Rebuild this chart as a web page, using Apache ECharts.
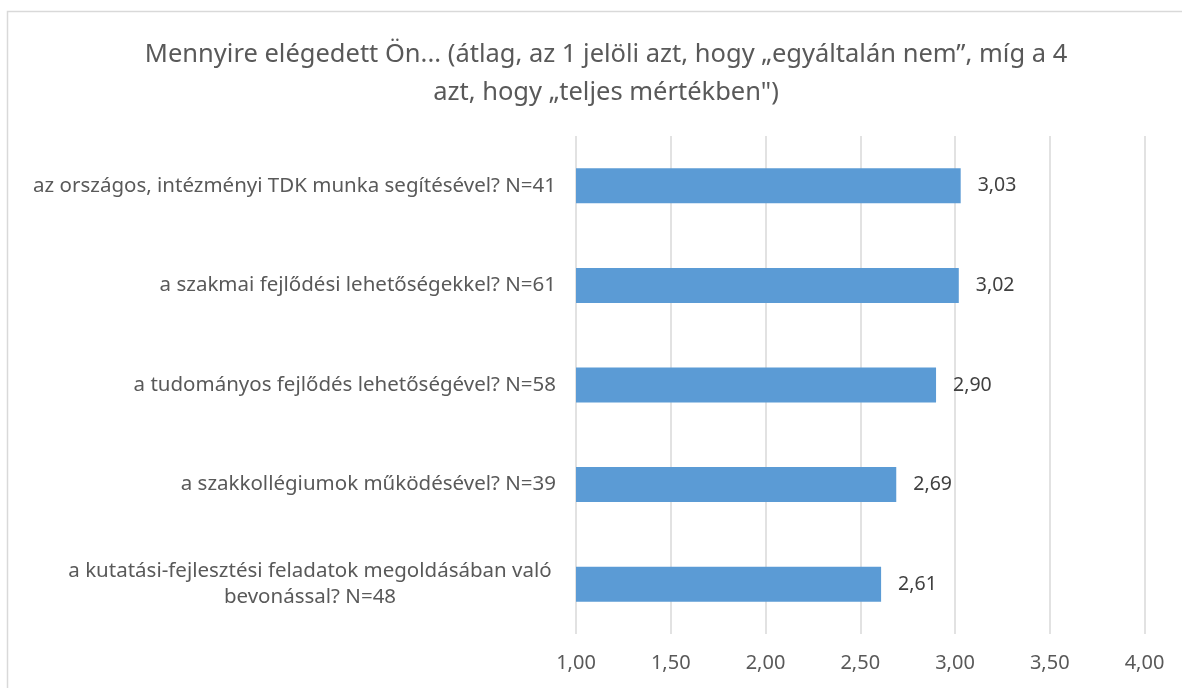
<!DOCTYPE html>
<html>
<head>
<meta charset="utf-8">
<title>Elégedettség</title>
<script src="https://cdn.jsdelivr.net/npm/echarts@6/dist/echarts.min.js"></script>
<style>
  html, body { margin: 0; padding: 0; background: #ffffff; }
  #chart { width: 1182px; height: 688px; }
</style>
</head>
<body>
<div id="chart"></div>
<script>
// Questions, listed top to bottom
const categories = [
  'az országos, intézményi TDK munka segítésével? N=41',
  'a szakmai fejlődési lehetőségekkel? N=61',
  'a tudományos fejlődés lehetőségével? N=58',
  'a szakkollégiumok működésével? N=39',
  'a kutatási-fejlesztési feladatok megoldásában való\nbevonással? N=48'
];
// Mean scores (1 = not at all, 4 = fully)
const means = [3.03, 3.02, 2.90, 2.69, 2.61];
// Value axis ticks
const axisMin = 1.0;
const axisMax = 4.0;
const axisStep = 0.5;

const titleLines = [
  'Mennyire elégedett Ön... (átlag, az 1 jelöli azt, hogy „egyáltalán nem”, míg a 4',
  'azt, hogy „teljes mértékben")'
];

const FONT = '"Noto Sans", "Open Sans", sans-serif';
const comma = v => v.toFixed(2).replace('.', ',');

const chart = echarts.init(document.getElementById('chart'), null, { renderer: 'canvas' });

chart.setOption({
  backgroundColor: '#ffffff',
  animation: false,
  textStyle: { fontFamily: FONT },
  title: {
    text: titleLines.join('\n'),
    left: 601,
    top: 31,
    textAlign: 'center',
    textStyle: {
      fontFamily: FONT,
      fontSize: 25.5,
      fontWeight: 'normal',
      color: '#595959',
      lineHeight: 38
    }
  },
  graphic: [{
    type: 'rect',
    shape: { x: 7.5, y: 11.5, width: 1200, height: 700 },
    style: { fill: 'none', stroke: '#d9d9d9', lineWidth: 1.5 },
    silent: true
  }],
  grid: {
    left: 576,
    right: 37.5,
    top: 136,
    bottom: 54,
    containLabel: false
  },
  xAxis: {
    type: 'value',
    min: axisMin,
    max: axisMax,
    interval: axisStep,
    axisLine: { show: false },
    axisTick: { show: false },
    splitLine: { show: true, lineStyle: { color: '#d9d9d9', width: 1.5 } },
    axisLabel: {
      margin: 19,
      fontFamily: FONT,
      fontSize: 20,
      color: '#595959',
      formatter: v => comma(v)
    }
  },
  yAxis: {
    type: 'category',
    inverse: true,
    data: categories,
    axisLine: { show: false },
    axisTick: { show: false },
    splitLine: { show: false },
    axisLabel: {
      margin: 20,
      fontFamily: FONT,
      fontSize: 20.5,
      color: '#595959',
      lineHeight: 26,
      formatter: v => v.indexOf('\n') >= 0 ? '{w|' + v + '}' : v,
      rich: {
        w: {
          width: 492,
          align: 'center',
          fontFamily: FONT,
          fontSize: 20.5,
          color: '#595959',
          lineHeight: 26
        }
      }
    }
  },
  series: [{
    type: 'bar',
    data: means,
    barWidth: 35,
    itemStyle: { color: '#5b9bd5' },
    label: {
      show: true,
      position: 'right',
      distance: 17,
      fontFamily: FONT,
      fontSize: 19.5,
      color: '#404040',
      formatter: p => comma(p.value)
    }
  }]
});
</script>
</body>
</html>
